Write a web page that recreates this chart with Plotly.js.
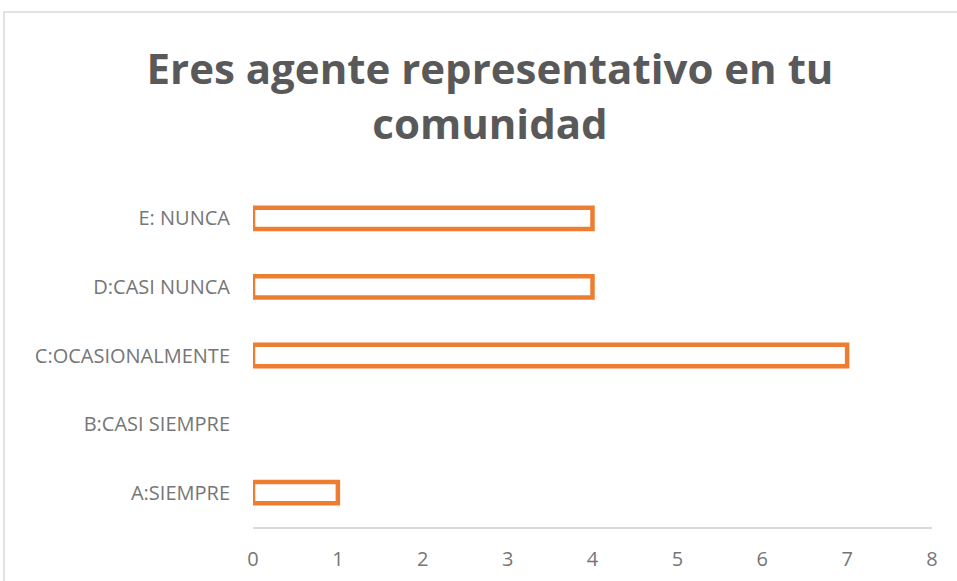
<!DOCTYPE html>
<html>
<head>
<meta charset="utf-8">
<script src="https://cdn.plot.ly/plotly-3.0.1.min.js"></script>
<style>
html,body{margin:0;padding:0;background:#fff;}
#chart{width:957px;height:581px;}
</style>
</head>
<body>
<div id="chart"></div>
<script>
const categories = ["A:SIEMPRE", "B:CASI SIEMPRE", "C:OCASIONALMENTE", "D:CASI NUNCA", "E: NUNCA"];
const values = [1, 0, 7, 4, 4];
const xTicks = [0, 1, 2, 3, 4, 5, 6, 7, 8];
const chartTitle = "Eres agente representativo en tu<br>comunidad";

const trace = {
  type: "bar",
  orientation: "h",
  y: categories,
  x: values,
  width: 0.31,
  marker: {
    color: "rgba(255,255,255,0)",
    line: {color: "#ED7D31", width: values.map(v => v === 0 ? 0 : 4.5)}
  },
  hoverinfo: "none"
};

const layout = {
  width: 957,
  height: 581,
  margin: {l: 253, r: 25, t: 184, b: 54},
  paper_bgcolor: "#ffffff",
  plot_bgcolor: "#ffffff",
  showlegend: false,
  font: {family: "Open Sans, sans-serif", color: "#767676", size: 20},
  title: {
    text: chartTitle,
    font: {family: "Open Sans, sans-serif", size: 42, color: "#595959", weight: "bold"},
    xref: "container", x: 490/957, xanchor: "center",
    yref: "container", y: 1 - 84/581, yanchor: "top"
  },
  xaxis: {
    range: [0, 8],
    tickvals: xTicks,
    ticktext: xTicks.map(String),
    showgrid: false,
    zeroline: false,
    showline: true,
    linecolor: "#d9d9d9",
    linewidth: 1.5,
    ticks: "",
    ticklabelstandoff: 13,
    tickfont: {size: 20, color: "#767676"}
  },
  yaxis: {
    type: "category",
    categoryorder: "array",
    categoryarray: categories,
    showgrid: false,
    zeroline: false,
    showline: false,
    ticks: "",
    ticklabelstandoff: 22,
    tickfont: {size: 20, color: "#767676"}
  },
  shapes: [{
    type: "rect", xref: "paper", yref: "paper",
    x0: (4 - 253) / 679, x1: 2,
    y0: -1, y1: (527 - 12) / 343,
    line: {color: "#d9d9d9", width: 1.5},
    fillcolor: "rgba(0,0,0,0)",
    layer: "below"
  }]
};

Plotly.newPlot("chart", [trace], layout, {displayModeBar: false, staticPlot: true});
</script>
</body>
</html>
